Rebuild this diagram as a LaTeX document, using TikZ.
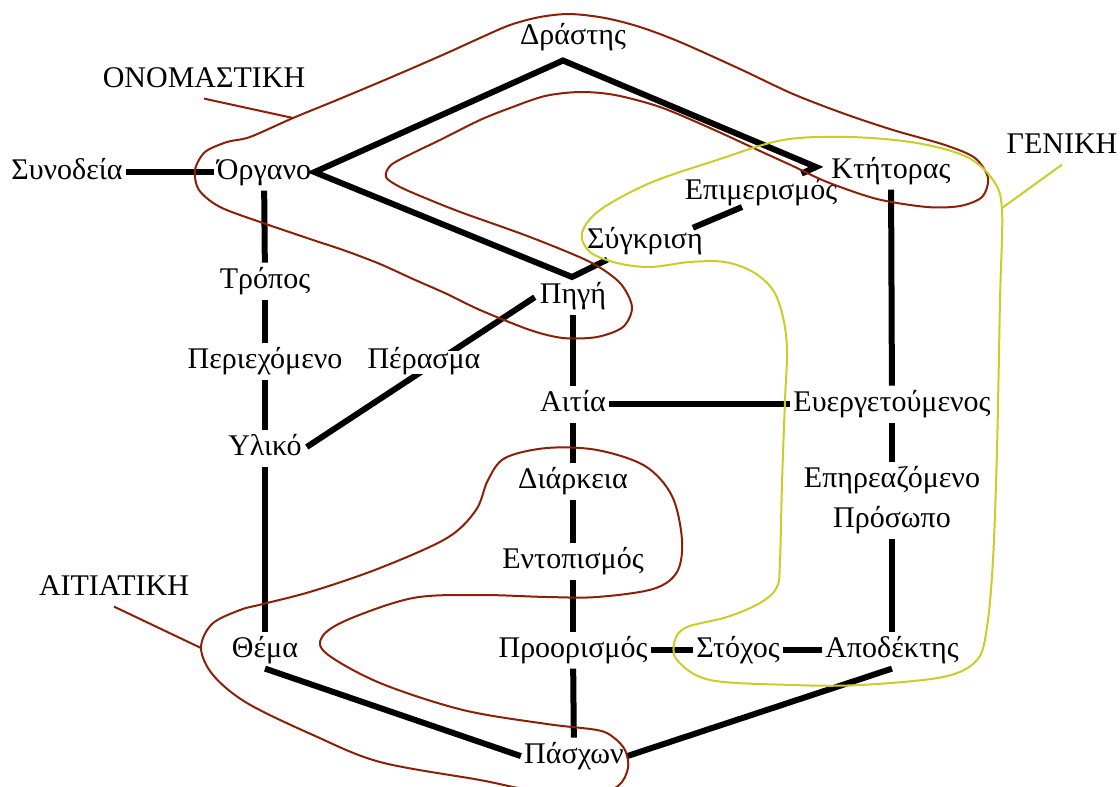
\documentclass[tikz,border=0pt]{standalone}
\usepackage{fontspec}
\setmainfont{Liberation Serif}
\definecolor{casered}{RGB}{139,32,8}
\definecolor{caseyellow}{RGB}{204,204,40}
\begin{document}
\begin{tikzpicture}[x=0.5pt,y=-0.5pt,
  txt/.style={font=\fontsize{15pt}{20pt}\selectfont, inner xsep=1.5pt, inner ysep=2pt},
  lbl/.style={txt, text height=10.5pt, text depth=3.6pt},
  link/.style={line width=3pt, black},
  ring/.style={line width=1pt},
]
\useasboundingbox (0,0) rectangle (1120,787);
\clip (0,0) rectangle (1120,787);

% role names
\node[lbl] (drastis)  at (573,38.1)  {Δράστης};
\node[lbl] (onom)     at (204,80.1)  {ΟΝΟΜΑΣΤΙΚΗ};
\node[lbl] (synodeia) at (67,172.1)  {Συνοδεία};
\node[lbl] (organo)   at (264,172.1) {Όργανο};
\node[lbl] (kt)       at (891,171.1) {Κτήτορας};
\node[lbl] (geniki)   at (1062,146.1) {ΓΕΝΙΚΗ};
\node[lbl] (epim)     at (761,192.1) {Επιμερισμός};
\node[lbl] (synk)     at (645,241.1) {Σύγκριση};
\node[lbl] (tropos)   at (265,281.1) {Τρόπος};
\node[lbl] (pigi)     at (573,296.1) {Πηγή};
\node[lbl] (periex)   at (265,361.1) {Περιεχόμενο};
\node[lbl] (aitia)    at (573,404.1) {Αιτία};
\node[lbl] (euerg)    at (892,404.1) {Ευεργετούμενος};
\node[lbl] (yliko)    at (265,448.1) {Υλικό};
\node[lbl] (diark)    at (573,481.1) {Διάρκεια};
\node[txt, align=center] (epir) at (892,500.5) {Επηρεαζόμενο\\Πρόσωπο};
\node[lbl] (entop)    at (573,561.1) {Εντοπισμός};
\node[lbl] (aitiat)   at (114,588.1) {ΑΙΤΙΑΤΙΚΗ};
\node[lbl] (thema)    at (265,650.1) {Θέμα};
\node[lbl] (proor)    at (573,650.1) {Προορισμός};
\node[lbl] (stoxos)   at (738,650.1) {Στόχος};
\node[lbl] (apod)     at (892,650.1) {Αποδέκτης};
\node[lbl] (pasxon)   at (574,756.1) {Πάσχων};

% corners of the central loop
\coordinate (dtop)    at (563,60.5);
\coordinate (kcorner) at (816,167);
\coordinate (pcorner) at (572,277);

% connectors
\draw[link] (synodeia) -- (organo);
\draw[link] (epim) -- (kcorner) -- (dtop) -- (organo.east) -- (pcorner) -- (synk);
\draw[link, shorten <=26pt, shorten >=10.3pt] (synk.base) -- (epim.base);
\foreach \a/\b in {organo/tropos, tropos/periex, periex/yliko, yliko/thema,
                   pigi/aitia, aitia/diark, diark/entop, entop/proor, proor/pasxon,
                   kt/euerg, euerg/epir, epir/apod,
                   aitia/euerg, proor/stoxos, stoxos/apod}
  \draw[link] (\a) -- (\b);
\draw[link] (thema.south) -- (pasxon.west);
\draw[link] (pasxon.east) -- (apod.south);
\draw[link, shorten <=1pt, shorten >=1pt] (yliko.east) -- (pigi.west);
\node[font=\fontsize{15pt}{20pt}\selectfont, fill=white, inner sep=0pt,
      text height=8.5pt, text depth=3pt] (perasma) at (424,362.5) {Πέρασμα};

% nominative
\coordinate (onomhook) at (293,118);
\draw[ring, casered] (onom.south) -- (onomhook);
\draw[ring, casered] plot[smooth cycle, tension=0.5] coordinates {
  (570,14) (605,18) (640,27) (680,42) (740,69) (793,94) (845,114) (893,130)
  (945,145) (975,158) (988,178) (982,197) (960,206) (927,207) (877,199)
  (827,182) (795,167) (760,151) (710,128) (660,107) (615,95) (580,92)
  (545,96) (510,108) (480,120) (440,140) (413,153) (391,165) (386,177)
  (400,187) (430,200) (463,213) (530,237) (590,262) (620,283) (632,307)
  (623,327) (597,337) (563,338) (530,330) (480,310) (447,294) (413,279)
  (380,264) (346,251) (313,240) (263,223) (220,207) (199,190) (195,170)
  (205,152) (227,142) (250,137) (293,118) (337,100) (380,82) (415,67)
  (447,53) (480,38) (510,25) (540,17)};

% accusative
\coordinate (aitiathook) at (201,648);
\draw[ring, casered] (aitiat.south) -- (aitiathook);
\draw[ring, casered] plot[smooth cycle, tension=0.55] coordinates {
  (201,648) (212,624) (240,610) (263,604) (313,591) (380,568) (447,538)
  (476,510) (488,480) (505,458) (547,448) (597,450) (645,466) (672,496)
  (682,540) (677,572) (653,589) (597,597) (547,597) (480,595) (413,598)
  (347,620) (322,637) (327,654) (380,683) (463,710) (547,724) (597,730)
  (613,737) (625,750) (628,768) (618,786) (590,795) (530,790) (480,780)
  (380,762) (313,735) (247,703) (213,675)};

% genitive
\coordinate (genhook) at (1002,208);
\draw[ring, caseyellow] (geniki.south) -- (genhook);
\draw[ring, caseyellow] plot[smooth cycle, tension=0.55] coordinates {
  (600,210) (650,183) (717,160) (783,140) (850,137) (917,143) (967,157)
  (993,180) (1002,210) (1000,300) (997,450) (993,560) (987,627) (977,660)
  (943,677) (860,685) (793,685) (710,680) (677,660) (675,640) (687,627)
  (727,617) (760,603) (777,587) (780,560) (782,483) (785,400) (787,350)
  (783,317) (773,290) (753,272) (725,262) (690,262) (650,267) (617,263)
  (590,252) (582,233)};
\end{tikzpicture}
\end{document}
